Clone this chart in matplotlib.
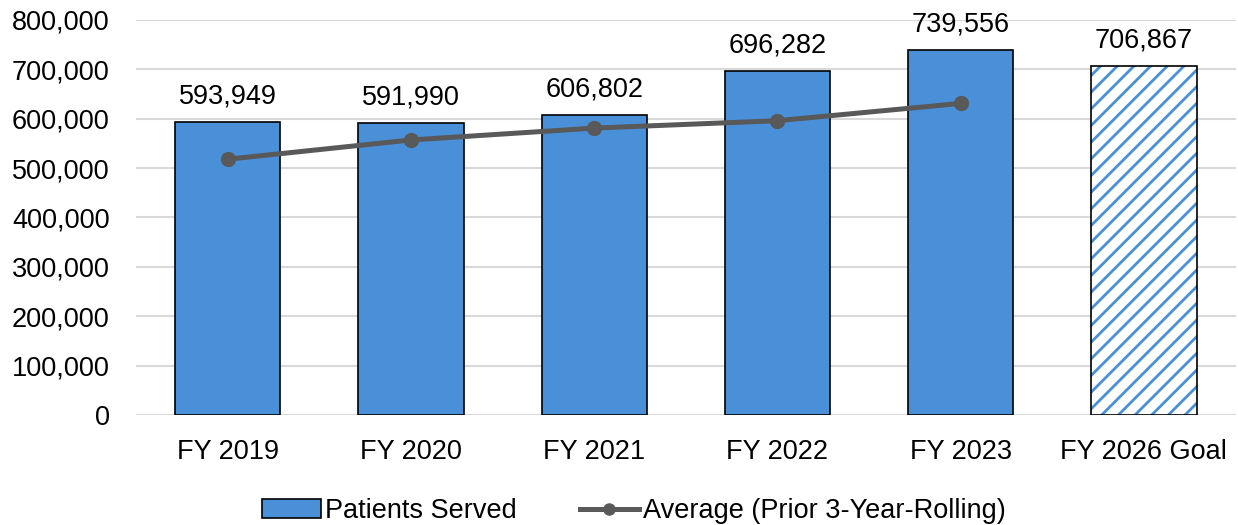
import matplotlib
matplotlib.use("Agg")
import matplotlib.pyplot as plt
from matplotlib.lines import Line2D
from matplotlib.patches import Patch
import numpy as np

categories = ["FY 2019", "FY 2020", "FY 2021", "FY 2022", "FY 2023", "FY 2026 Goal"]
patients_served = [593949, 591990, 606802, 696282, 739556, 706867]
rolling_average = [518000, 557000, 581000, 596000, 631000]
y_ticks = [0, 100000, 200000, 300000, 400000, 500000, 600000, 700000, 800000]

plt.rcParams["font.family"] = ["Liberation Sans", "DejaVu Sans"]
plt.rcParams["hatch.linewidth"] = 2.0

bar_color = "#4a90d9"
line_color = "#595959"
fs = 19.5

fig = plt.figure(figsize=(12.38, 5.25), dpi=100)
ax = fig.add_axes([0.110, 0.2095, 0.888, 0.7525])

x = np.arange(len(categories))
width = 0.575

# actual years: solid bars
ax.bar(x[:-1], patients_served[:-1], width=width, color=bar_color,
       edgecolor="black", linewidth=1.2, zorder=2)
# goal: hatched bar, hatch drawn in blue then black outline on top
ax.bar(x[-1], patients_served[-1], width=width, color="white",
       edgecolor=bar_color, hatch="//", linewidth=0, zorder=2)
ax.bar(x[-1], patients_served[-1], width=width, fill=False,
       edgecolor="black", linewidth=1.2, zorder=3)

for xi, v in zip(x, patients_served):
    ax.annotate(f"{v:,}", (xi, v), xytext=(0, 9), textcoords="offset points",
                ha="center", va="bottom", fontsize=fs)

ax.plot(x[:len(rolling_average)], rolling_average, color=line_color,
        linewidth=3.6, marker="o", markersize=10, zorder=4)

ax.set_xlim(-0.5, len(categories) - 0.5)
ax.set_ylim(0, 800000)
ax.set_yticks(y_ticks)
ax.set_yticklabels([f"{t:,}" for t in y_ticks])
ax.set_xticks(x)
ax.set_xticklabels(categories)
ax.tick_params(axis="both", length=0, labelsize=fs)
ax.tick_params(axis="y", pad=19)
ax.tick_params(axis="x", pad=17)
ax.grid(axis="y", color="#d9d9d9", linewidth=1.5, zorder=0)
ax.set_axisbelow(True)
for s in ax.spines.values():
    s.set_visible(False)

handles = [
    Patch(facecolor=bar_color, edgecolor="black", linewidth=1.2, label="Patients Served"),
    Line2D([0], [0], color=line_color, linewidth=3.6, marker="o", markersize=8,
           label="Average (Prior 3-Year-Rolling)"),
]
fig.legend(handles=handles, loc="lower center", bbox_to_anchor=(0.512, -0.045),
           ncol=2, frameon=False, fontsize=fs, handlelength=2.2,
           handletextpad=0.15, columnspacing=2.3)

fig.savefig("out.png", dpi=100)
